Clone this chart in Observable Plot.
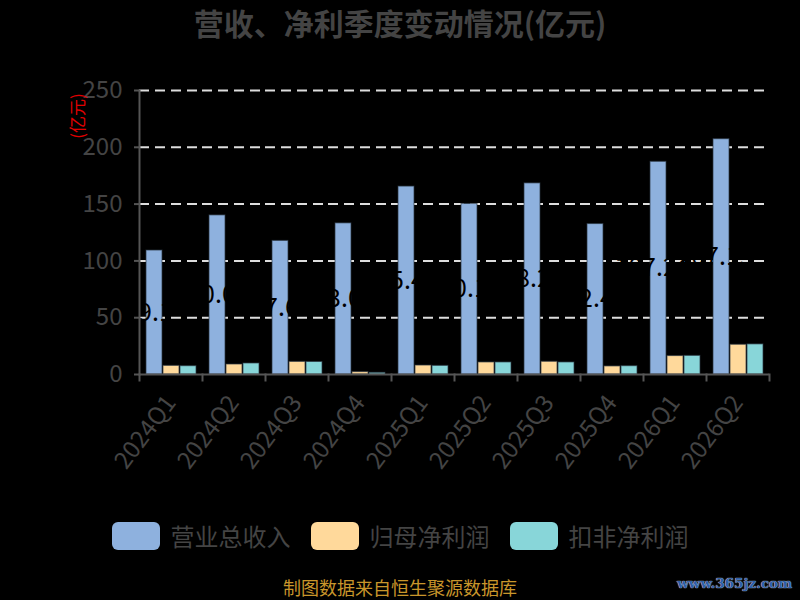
<!DOCTYPE html>
<html>
<head>
<meta charset="utf-8">
<script src="https://cdn.jsdelivr.net/npm/d3@7"></script>
<script src="https://cdn.jsdelivr.net/npm/@observablehq/plot@0.6"></script>
<style>
  html, body { margin: 0; padding: 0; background: #000; width: 800px; height: 600px; overflow: hidden; }
  body { position: relative; font-family: "Noto Sans CJK SC", "Noto Sans", sans-serif; }
  #title { position: absolute; top: 0; left: 0; width: 800px; height: 46px; line-height: 44px; text-align: center;
           font-size: 30px; font-weight: bold; color: #444; }
  #chart { position: absolute; top: 50px; left: 0; }
  #ylabel { position: absolute; left: 64px; top: 93px; width: 24px; height: 46px; }
  #ylabel span { display: block; position: absolute; left: 50%; top: 50%; transform: translate(-50%, -50%) rotate(-90deg);
                 white-space: nowrap; color: #e00000; font-size: 17px; }
  #legend { position: absolute; top: 520px; left: 0; width: 800px; height: 32px; display: flex; justify-content: center; align-items: center; gap: 20px; }
  .item { display: flex; align-items: center; }
  .sw { width: 48px; height: 28px; border-radius: 6px; margin-right: 11px; }
  .lab { font-size: 24px; color: #444; line-height: 28px; }
  #caption { position: absolute; top: 577px; left: 0; width: 800px; text-align: center; font-size: 18px; color: #c9962b; line-height: 20px; }
  #wm { position: absolute; top: 574px; left: 677px; width: 120px; font-family: "DejaVu Serif", serif; font-weight: bold; font-size: 13.5px; color: #2d5fa8;
        text-shadow: 0 0 1px #cfd8e6, 0 0 1px #cfd8e6; line-height: 18px; }
</style>
</head>
<body>
<div id="title">营收、净利季度变动情况(亿元)</div>
<div id="chart"></div>
<div id="ylabel"><span>(亿元)</span></div>
<div id="legend"></div>
<div id="caption">制图数据来自恒生聚源数据库</div>
<div id="wm">www.365jz.com</div>
<script>
const quarters = ["2024Q1","2024Q2","2024Q3","2024Q4","2025Q1","2025Q2","2025Q3","2025Q4","2026Q1","2026Q2"];
const seriesNames = ["营业总收入","归母净利润","扣非净利润"];
const revenue = [109.14, 140.05, 117.62, 133.04, 165.43, 150.12, 168.23, 132.41, 187.24, 207.13];
const netProfit = [7.6, 8.8, 11.1, 2.1, 7.9, 10.6, 11.2, 7.1, 16.2, 26.2];
const deductedProfit = [7.3, 9.7, 11.0, 1.5, 7.6, 10.6, 10.6, 7.3, 16.4, 26.5];
const yTicks = [0, 50, 100, 150, 200, 250];
const gridTicks = [50, 100, 150, 200, 250];
const colors = ["#8eb1de", "#ffd99b", "#88d6d9"];

const seriesValues = [revenue, netProfit, deductedProfit];
const table = quarters.flatMap((q, i) => seriesNames.map((s, j) => ({quarter: q, series: s, value: seriesValues[j][i]})));
const revenueRows = table.filter(d => d.series === seriesNames[0]);

const chart = Plot.plot({
  width: 800,
  height: 430,
  marginLeft: 139,
  marginRight: 31,
  marginTop: 40,
  marginBottom: 106,
  style: {background: "transparent", fontFamily: "'Noto Sans CJK SC', 'Noto Sans', sans-serif", overflow: "visible"},
  fx: {domain: quarters, padding: 0, label: null, axis: null},
  x: {domain: seriesNames, paddingInner: 0.06, paddingOuter: 0.3, axis: null},
  y: {domain: [0, 250], axis: null, label: null},
  color: {domain: seriesNames, range: colors},
  marks: [
    Plot.gridY(gridTicks, {stroke: "#dddddd", strokeOpacity: 1, strokeWidth: 2, strokeDasharray: "10,6"}),
    Plot.barY(table, {fx: "quarter", x: "series", y: "value", fill: "series", stroke: "#2a3440", strokeWidth: 1, strokeOpacity: 0.7}),
    Plot.text(revenueRows, {fx: "quarter", x: "series", y: d => d.value / 2, text: d => d.value.toFixed(2), fill: "#000", fontSize: 25, dx: -6}),
    Plot.ruleY([0], {stroke: "#555", strokeWidth: 2}),
    Plot.frame({anchor: "left", stroke: "#555", strokeWidth: 2, facetAnchor: "left"}),
    Plot.frame({anchor: "left", stroke: "#555", strokeWidth: 2, insetTop: 284, insetBottom: -6}),
    Plot.frame({anchor: "right", stroke: "#555", strokeWidth: 2, insetTop: 284, insetBottom: -6, facetAnchor: "right"}),
    Plot.axisY(yTicks, {tickSize: 5, tickPadding: 12, fontSize: 24, color: "#444", stroke: "#555", strokeWidth: 2}),
    Plot.axisFx({anchor: "bottom", tickRotate: -53, tickSize: 0, tickPadding: 24, fontSize: 24, color: "#444", label: null})
  ]
});
document.getElementById("chart").appendChild(chart);

const legend = document.getElementById("legend");
seriesNames.forEach((s, i) => {
  const item = document.createElement("div");
  item.className = "item";
  const sw = document.createElement("div");
  sw.className = "sw";
  sw.style.background = colors[i];
  const lab = document.createElement("span");
  lab.className = "lab";
  lab.textContent = s;
  item.appendChild(sw);
  item.appendChild(lab);
  legend.appendChild(item);
});
</script>
</body>
</html>
